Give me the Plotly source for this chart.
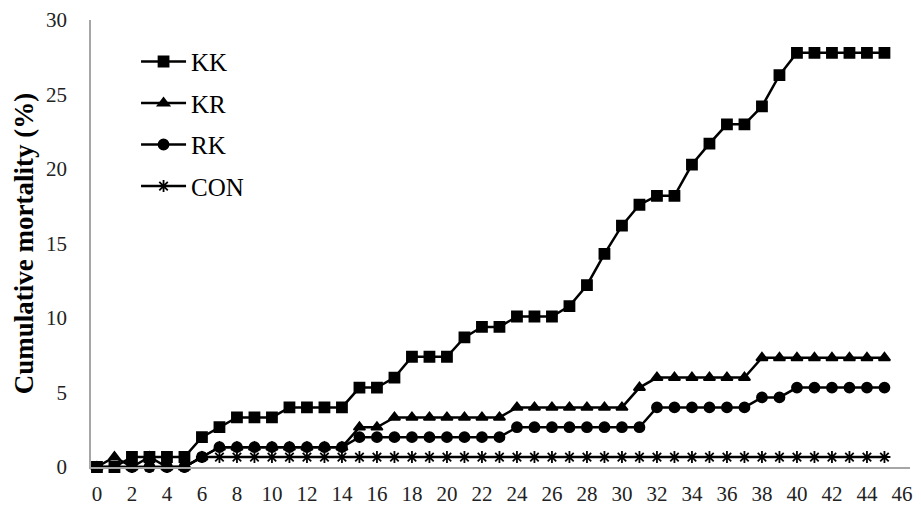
import plotly.graph_objects as go

days = list(range(46))

kk = [0, 0, 0.67, 0.67, 0.67, 0.67, 2, 2.67, 3.33, 3.33, 3.33, 4, 4, 4, 4,
      5.33, 5.33, 6, 7.4, 7.4, 7.4, 8.7, 9.4, 9.4, 10.1, 10.1, 10.1, 10.8,
      12.2, 14.3, 16.2, 17.6, 18.2, 18.2, 20.3, 21.7, 23.0, 23.0, 24.2, 26.3,
      27.8, 27.8, 27.8, 27.8, 27.8, 27.8]
kr = [0, 0.67, 0, 0.67, 0, 0, 0.67, 1.33, 1.33, 1.33, 1.33, 1.33, 1.33, 1.33, 1.33,
      2.67, 2.67, 3.33, 3.33, 3.33, 3.33, 3.33, 3.33, 3.33, 4, 4, 4, 4, 4, 4, 4,
      5.33, 6, 6, 6, 6, 6, 6, 7.33, 7.33, 7.33, 7.33, 7.33, 7.33, 7.33, 7.33]
rk = [0, 0, 0, 0, 0, 0, 0.67, 1.33, 1.33, 1.33, 1.33, 1.33, 1.33, 1.33, 1.33,
      2, 2, 2, 2, 2, 2, 2, 2, 2, 2.67, 2.67, 2.67, 2.67, 2.67, 2.67, 2.67, 2.67,
      4, 4, 4, 4, 4, 4, 4.67, 4.67, 5.33, 5.33, 5.33, 5.33, 5.33, 5.33]
con = [0, 0, 0, 0, 0, 0] + [0.67] * 40

series = [("KK", kk, "square", 10), ("KR", kr, "triangle-up", 10),
          ("RK", rk, "circle", 10), ("CON", con, "asterisk-open", 10)]

x_ticks = list(range(0, 47, 2))
y_ticks = [0, 5, 10, 15, 20, 25, 30]

fig = go.Figure()
for name, vals, sym, sz in series:
    fig.add_trace(go.Scatter(
        x=days, y=vals, name=name, mode="lines+markers",
        legendgroup=name,
        line=dict(color="black", width=2.5),
        marker=dict(symbol=sym, size=sz, color="black",
                    line=dict(color="black", width=1.8)),
        cliponaxis=False,
    ))

font_family = "Liberation Serif"
fig.update_layout(
    width=921, height=506,
    margin=dict(l=91, r=11, t=20, b=39, autoexpand=False),
    paper_bgcolor="white", plot_bgcolor="white",
    font=dict(family=font_family, size=21, color="#222"),
    showlegend=True,
    legend=dict(x=0.055, y=0.958, xanchor="left", yanchor="top",
                font=dict(family=font_family, size=25, color="black"),
                itemwidth=45,
                tracegroupgap=6, bgcolor="rgba(0,0,0,0)"),
    xaxis=dict(range=[-0.34, 46.46], tickvals=x_ticks,
               ticktext=[str(t) for t in x_ticks],
               automargin=False,
               showgrid=False, zeroline=False, showline=True,
               linecolor="#a6a6a6", linewidth=1.5, ticks="",
               ticklabelstandoff=7,
               tickfont=dict(family=font_family, size=21, color="#222")),
    yaxis=dict(range=[0, 30], tickvals=y_ticks,
               automargin=False,
               showgrid=False, zeroline=False, showline=True,
               linecolor="#a6a6a6", linewidth=1.5, ticks="",
               ticklabelstandoff=18,
               tickfont=dict(family=font_family, size=21, color="#222"),
               title=dict(text="<b>Cumulative mortality (%)</b>",
                          font=dict(family=font_family, size=27, color="black"),
                          standoff=5)),
)

fig.write_html("out.html", config={"displayModeBar": False},
               post_script="document.body.style.margin='0';")
